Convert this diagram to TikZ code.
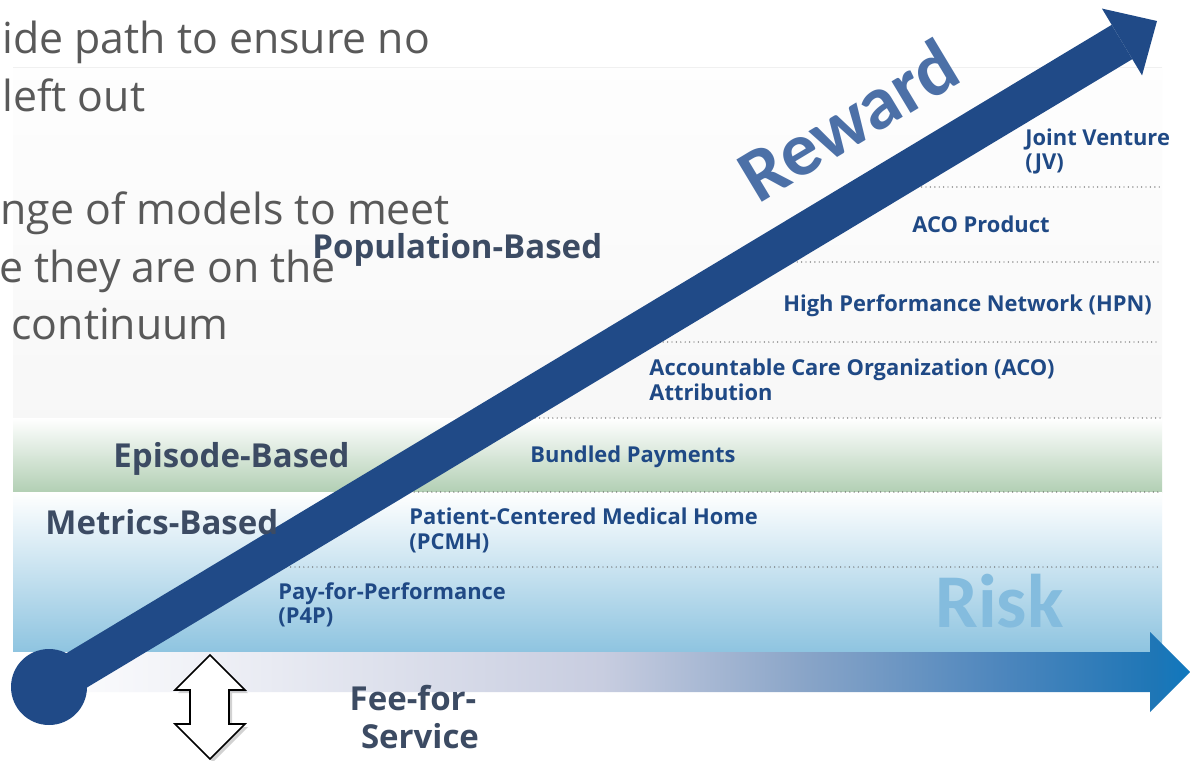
\documentclass[tikz,border=0pt]{standalone}
\usepackage{fontspec}
\setmainfont{Open Sans}
\newfontfamily\carl{Carlito}
\usetikzlibrary{calc,shadows}
\definecolor{shaftblue}{RGB}{32,74,135}
\definecolor{rewardblue}{RGB}{76,112,167}
\definecolor{itemblue}{RGB}{31,73,133}
\definecolor{catgray}{RGB}{60,75,99}
\definecolor{bodygray}{RGB}{89,89,89}
\definecolor{riskblue}{RGB}{132,188,222}
\definecolor{greenbot}{RGB}{178,207,180}
\definecolor{bluebot}{RGB}{142,196,224}
\definecolor{dotgray}{RGB}{100,100,100}
\definecolor{rsa}{RGB}{244,245,249}
\definecolor{rsb}{RGB}{200,205,224}
\definecolor{rsc}{RGB}{138,165,200}
\definecolor{rsd}{RGB}{77,134,189}
\definecolor{rse}{RGB}{30,118,182}
\definecolor{rsf}{RGB}{16,120,190}
\pgfdeclarehorizontalshading{riskshade}{100bp}{color(0bp)=(white); color(25bp)=(white); color(31bp)=(rsa); color(50bp)=(rsb); color(58.5bp)=(rsc); color(67bp)=(rsd); color(73.5bp)=(rse); color(75bp)=(rsf); color(100bp)=(rsf)}
\begin{document}
\begin{tikzpicture}[x=0.5pt,y=-0.5pt,
  item/.style={anchor=base west, inner sep=0pt, font=\fontsize{10.95}{12.5}\selectfont\bfseries, text=itemblue},
  cat/.style={anchor=base west, inner sep=0pt, font=\fontsize{16.5}{19}\selectfont\bfseries, text=catgray},
  body/.style={anchor=base west, inner sep=0pt, font=\fontsize{21.4}{28}\selectfont, text=bodygray},
  bigword/.style={inner sep=0pt, font=\carl\fontsize{38}{40}\selectfont\bfseries},
  dotline/.style={dotgray, line width=0.7pt, line cap=round, dash pattern=on 0pt off 2.2pt}]
\useasboundingbox (0,0) rectangle (1190,761);
\fill[white] (0,0) rectangle (1190,761);
% panel bands
\shade[top color=gray!1, bottom color=gray!6] (13,67) rectangle (1162,418);
\shade[top color=white, bottom color=greenbot] (13,418) rectangle (1162,492);
\shade[top color=white, bottom color=bluebot] (13,492) rectangle (1162,652);
\draw[gray!12, line width=0.4pt] (13,67) -- (1162,67);
% dotted separators
\draw[dotline] (882,187) -- (1160,187);
\draw[dotline] (740,262) -- (1160,262);
\draw[dotline] (628,342) -- (1160,342);
\draw[dotline] (500,418) -- (1160,418);
\draw[dotline] (379,492) -- (1160,492);
\draw[dotline] (251,567) -- (1160,567);
% risk arrow
\shade[shading=riskshade]
  (13,652) -- (1150,652) -- (1150,632) -- (1190,672) -- (1150,712) -- (1150,692) -- (13,692) -- cycle;
\node[bigword, anchor=base west, text=riskblue] (risk) at (935,627) {Risk};
% body text (clipped slide text)
\node[body] (b1) at (2,53) {ide path to ensure no};
\node[body] (b2) at (2,111) {left out};
\node[body] (b3) at (0,224) {nge of models to meet};
\node[body] (b4) at (-1,282) {e they are on the};
\node[body] (b5) at (0,339) {\ continuum};
% categories
\node[cat] (pop) at (312,258) {Population-Based};
\node[cat] (epi) at (113,467) {Episode-Based};
% items
\node[item] (jv1) at (1025,145) {Joint Venture};
\node[item] (jv2) at (1025,169) {(JV)};
\node[item] (acop) at (912,232) {ACO Product};
\node[item] (hpn) at (783,311) {High Performance Network (HPN)};
\node[item] (aco1) at (649,375) {Accountable Care Organization (ACO)};
\node[item] (aco2) at (649,400) {Attribution};
\node[item] (bun) at (530,462) {Bundled Payments};
\node[item] (pc1) at (409,524) {Patient-Centered Medical Home};
\node[item] (pc2) at (409,549) {(PCMH)};
\node[item] (p4p1) at (278,599) {Pay-for-Performance};
\node[item] (p4p2) at (278,623) {(P4P)};
% fee for service
\node[cat, anchor=base] (fee1) at (413,710) {Fee-for-};
\node[cat, anchor=base] (fee2) at (420,748) {Service};
% double arrow
\draw[black, fill=white, line width=0.8pt, line join=miter,
  drop shadow={opacity=0.35, shadow xshift=1.5pt, shadow yshift=-1.5pt}]
  (210,655) -- (245,690) -- (229,690) -- (229,724) -- (245,724) -- (210,759)
  -- (175,724) -- (190,724) -- (190,690) -- (175,690) -- cycle;
% reward arrow
\coordinate (S) at (49,687);
\coordinate (B) at (1122,42);
\coordinate (T) at (1157,21);
\draw[shaftblue, line width=20pt] (S) -- (B);
\fill[shaftblue] ($(B)!19.5pt!90:(T)$) -- (T) -- ($(B)!19.5pt!-90:(T)$) -- cycle;
\fill[shaftblue] (S) circle[radius=38];
\node[bigword, rotate=31, text=rewardblue] (reward) at (848,120) {Reward};
\node[cat] (met) at (45,534) {Metrics-Based};
\end{tikzpicture}
\end{document}
